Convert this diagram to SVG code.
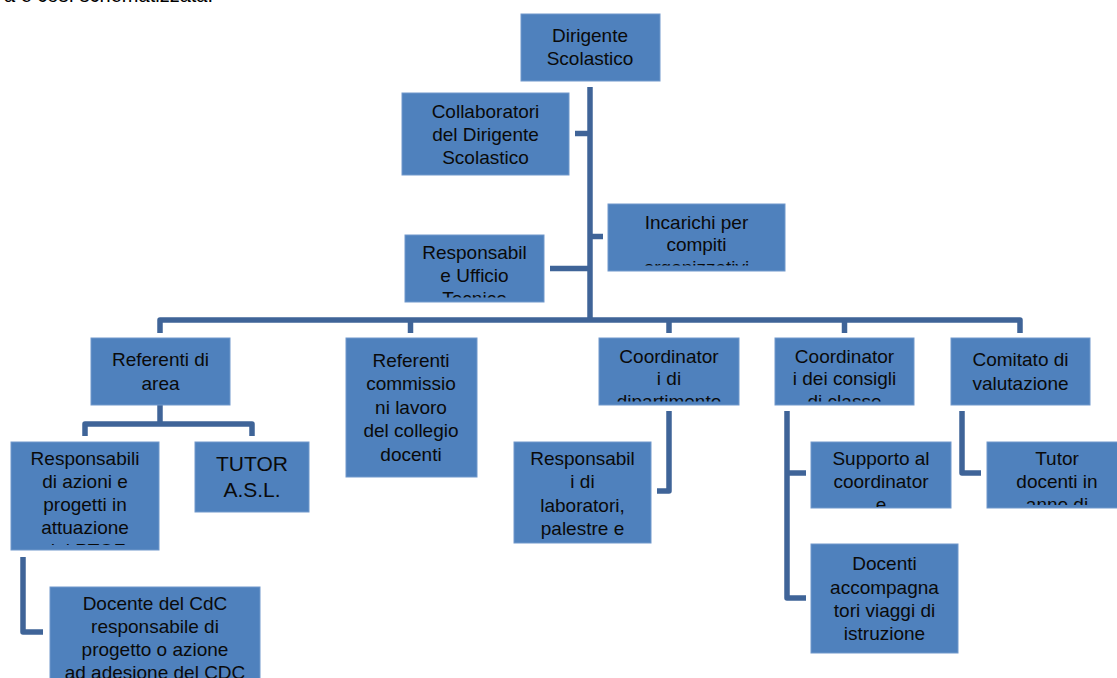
<svg xmlns="http://www.w3.org/2000/svg" width="1117" height="678" viewBox="0 0 1117 678">
<style>
.box{fill:#4F81BD;stroke:#7198CB;stroke-width:1}
.t{font-family:"Liberation Sans",Arial,sans-serif;font-size:19px;fill:#0A0A0A;text-anchor:middle}
.big{font-size:21px}
.c{fill:none;stroke:#3F6498;stroke-width:5.5;stroke-linejoin:round;stroke-linecap:butt}
.pg{font-family:"Liberation Sans",Arial,sans-serif;font-size:20px;fill:#000}
</style>
<defs>
<clipPath id="cInc"><rect x="608" y="204" width="177" height="61.5"/></clipPath>
<clipPath id="cTec"><rect x="405" y="235" width="139" height="62.5"/></clipPath>
<clipPath id="cDip"><rect x="599" y="338" width="140" height="63.5"/></clipPath>
<clipPath id="cCons"><rect x="775" y="338" width="139" height="63.5"/></clipPath>
<clipPath id="cAz"><rect x="11" y="442" width="148" height="103"/></clipPath>
<clipPath id="cLab"><rect x="514" y="442" width="137" height="98"/></clipPath>
<clipPath id="cSup"><rect x="811" y="442" width="140" height="65"/></clipPath>
<clipPath id="cTut"><rect x="987" y="442" width="140" height="63"/></clipPath>
</defs>
<rect width="1117" height="678" fill="#fff"/>
<text class="pg" x="4" y="2">a è così schematizzata:</text>
<g id="connectors">
<path class="c" d="M590,87 V320"/>
<path class="c" d="M575,133.5 H590"/>
<path class="c" d="M590,236.5 H603"/>
<path class="c" d="M550,268.5 H590"/>
<path class="c" d="M160,333 V320 H1020 V333"/>
<path class="c" d="M410.5,320 V333"/>
<path class="c" d="M669,320 V333"/>
<path class="c" d="M844.5,320 V333"/>
<path class="c" d="M160,405 V424"/>
<path class="c" d="M85,436 V424 H252 V436"/>
<path class="c" d="M23,557 V632 H43"/>
<path class="c" d="M669,411 V491 H657"/>
<path class="c" d="M787,411 V598 H806"/>
<path class="c" d="M787,473 H806"/>
<path class="c" d="M962,411 V473 H981"/>
</g>
<g id="dirigente"><rect class="box" x="521" y="14" width="139" height="67"/><text class="t" x="590" y="41.5">Dirigente</text><text class="t" x="590" y="65">Scolastico</text></g>
<g id="collaboratori"><rect class="box" x="402" y="93" width="167" height="82"/><text class="t" x="485.5" y="117.5">Collaboratori</text><text class="t" x="485.5" y="140.5">del Dirigente</text><text class="t" x="485.5" y="163.5">Scolastico</text></g>
<g id="incarichi"><rect class="box" x="608" y="204" width="177" height="67"/><g clip-path="url(#cInc)"><text class="t" x="696.5" y="228.5">Incarichi per</text><text class="t" x="696.5" y="251">compiti</text><text class="t" x="696.5" y="273.5">organizzativi</text></g></g>
<g id="ufficio-tecnico"><rect class="box" x="405" y="235" width="139" height="67"/><g clip-path="url(#cTec)"><text class="t" x="474.5" y="258.5">Responsabil</text><text class="t" x="474.5" y="281.5">e Ufficio</text><text class="t" x="474.5" y="304.5">Tecnico</text></g></g>
<g id="referenti-area"><rect class="box" x="91" y="338" width="139" height="67"/><text class="t" x="160.5" y="365.5">Referenti di</text><text class="t" x="160.5" y="389.5">area</text></g>
<g id="referenti-commissioni"><rect class="box" x="346" y="338" width="131" height="139"/><text class="t" x="411" y="366.5">Referenti</text><text class="t" x="411" y="390">commissio</text><text class="t" x="411" y="413.5">ni lavoro</text><text class="t" x="411" y="437">del collegio</text><text class="t" x="411" y="460.5">docenti</text></g>
<g id="coordinatori-dipartimento"><rect class="box" x="599" y="338" width="140" height="67"/><g clip-path="url(#cDip)"><text class="t" x="669" y="362.5">Coordinator</text><text class="t" x="669" y="385">i di</text><text class="t" x="669" y="407.5">dipartimento</text></g></g>
<g id="coordinatori-consigli"><rect class="box" x="775" y="338" width="139" height="67"/><g clip-path="url(#cCons)"><text class="t" x="844.5" y="362.5">Coordinator</text><text class="t" x="844.5" y="385">i dei consigli</text><text class="t" x="844.5" y="407.5">di classe</text></g></g>
<g id="comitato"><rect class="box" x="951" y="338" width="139" height="67"/><text class="t" x="1020.5" y="365.5">Comitato di</text><text class="t" x="1020.5" y="389.5">valutazione</text></g>
<g id="responsabili-azioni"><rect class="box" x="11" y="442" width="148" height="108"/><g clip-path="url(#cAz)"><text class="t" x="85" y="465">Responsabili</text><text class="t" x="85" y="488">di azioni e</text><text class="t" x="85" y="511">progetti in</text><text class="t" x="85" y="534">attuazione</text><text class="t" x="85" y="557">del PTOF</text></g></g>
<g id="tutor-asl"><rect class="box" x="195" y="442" width="114" height="70"/><text class="t big" x="252" y="470.5">TUTOR</text><text class="t big" x="252" y="497">A.S.L.</text></g>
<g id="docente-cdc"><rect class="box" x="50" y="587" width="210" height="100"/><text class="t" x="155" y="609.5">Docente del CdC</text><text class="t" x="155" y="633">responsabile di</text><text class="t" x="155" y="656">progetto o azione</text><text class="t" x="155" y="679">ad adesione del CDC</text></g>
<g id="responsabili-laboratori"><rect class="box" x="514" y="442" width="137" height="101"/><g clip-path="url(#cLab)"><text class="t" x="582.5" y="465">Responsabil</text><text class="t" x="582.5" y="488">i di</text><text class="t" x="582.5" y="511.5">laboratori,</text><text class="t" x="582.5" y="534.5">palestre e</text></g></g>
<g id="supporto"><rect class="box" x="811" y="442" width="140" height="66"/><g clip-path="url(#cSup)"><text class="t" x="881" y="465">Supporto al</text><text class="t" x="881" y="488">coordinator</text><text class="t" x="881" y="511">e</text></g></g>
<g id="tutor-docenti"><rect class="box" x="987" y="442" width="140" height="66"/><g clip-path="url(#cTut)"><text class="t" x="1057" y="465">Tutor</text><text class="t" x="1057" y="488">docenti in</text><text class="t" x="1057" y="511">anno di</text></g></g>
<g id="docenti-accompagnatori"><rect class="box" x="811" y="544" width="147" height="109"/><text class="t" x="884.5" y="570">Docenti</text><text class="t" x="884.5" y="593.5">accompagna</text><text class="t" x="884.5" y="617">tori viaggi di</text><text class="t" x="884.5" y="640">istruzione</text></g>
</svg>
